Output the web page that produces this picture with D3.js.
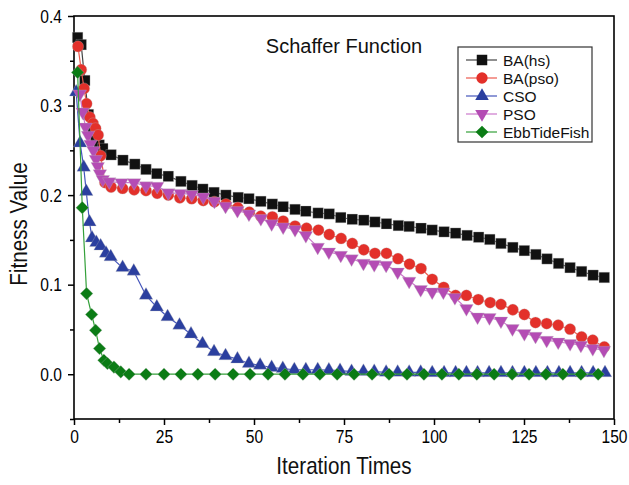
<!DOCTYPE html>
<html lang="en">
<head>
  <meta charset="UTF-8">
  <title>Schaffer Function</title>
  <script src="https://d3js.org/d3.v7.min.js"></script>
  <style>
    body, html { margin: 0; padding: 0; background: #fff; }
    text { font-family: "Liberation Sans", Arial, sans-serif; }
  </style>
</head>
<body>
  <svg id="svg" width="629" height="485"></svg>
  <script>
    // iteration / fitness pairs
    const bahsIter = [1, 2, 3, 4, 5.1, 6, 7, 8, 10.3, 13.6, 16.9, 20, 23, 26.2, 29.7, 32.8, 35.8, 38.9, 42.2, 45.6, 48.6, 51.9, 55.1, 58.1, 61.4, 64.4, 67.8, 70.9, 74.1, 77.3, 80.5, 83.6, 86.8, 90.1, 93.1, 96.4, 99.5, 102.8, 106, 109.2, 112.4, 115.5, 118.6, 121.9, 125.1, 128.3, 131.4, 134.6, 137.8, 141, 144.2, 147.3]
    const bahsVal = [0.376, 0.368, 0.328, 0.29, 0.273, 0.261, 0.256, 0.252, 0.245, 0.239, 0.2346, 0.2287, 0.224, 0.221, 0.2153, 0.2108, 0.2067, 0.203, 0.2, 0.1974, 0.196, 0.193, 0.19, 0.187, 0.184, 0.182, 0.18, 0.179, 0.175, 0.173, 0.172, 0.17, 0.168, 0.166, 0.165, 0.163, 0.161, 0.159, 0.1575, 0.155, 0.153, 0.1505, 0.146, 0.1416, 0.138, 0.1337, 0.1288, 0.1237, 0.119, 0.1147, 0.1106, 0.108]

    const bapsoIter = [1.1, 2, 2.8, 3.5, 4.4, 5.3, 6, 6.7, 7.4, 8.6, 10.3, 13.5, 16.7, 20, 23.1, 26.2, 29.4, 32.7, 35.9, 39, 42.2, 45.5, 48.7, 51.9, 55.1, 58.1, 61.4, 64.6, 67.9, 70.9, 74.2, 77.3, 80.5, 83.6, 86.8, 90, 93.2, 96.4, 99.5, 102.7, 106, 109, 112.3, 115.6, 118.6, 121.9, 125.1, 128.2, 131.3, 134.5, 137.8, 141, 144.1, 147.3]
    const bapsoVal = [0.366, 0.34, 0.319, 0.302, 0.287, 0.28, 0.2745, 0.267, 0.244, 0.214, 0.209, 0.2075, 0.206, 0.205, 0.202, 0.2, 0.197, 0.196, 0.194, 0.1925, 0.19, 0.186, 0.181, 0.1765, 0.1758, 0.171, 0.1654, 0.163, 0.161, 0.156, 0.1516, 0.146, 0.139, 0.135, 0.135, 0.129, 0.123, 0.118, 0.106, 0.097, 0.088, 0.088, 0.0834, 0.08, 0.078, 0.072, 0.0667, 0.0577, 0.0566, 0.0547, 0.0503, 0.0417, 0.038, 0.0305]

    const csoIter = [0.6, 1.7, 2.7, 3.4, 4.3, 5, 6.2, 7.4, 8.9, 10.2, 13.5, 16.6, 20, 23, 26, 29.3, 32.5, 35.7, 38.9, 42.1, 45.4, 48.6, 51.7, 54.9, 58, 61.2, 64.4, 67.7, 70.8, 73.9, 77.1, 80.4, 83.4, 86.7, 89.9, 93.1, 96.3, 99.5, 102.8, 106, 109, 112.1, 115.3, 118.6, 121.8, 125.1, 128.3, 131.5, 134.7, 137.8, 141, 144.2, 147.5]
    const csoVal = [0.315, 0.258, 0.231, 0.204, 0.17, 0.152, 0.147, 0.143, 0.135, 0.131, 0.119, 0.115, 0.088, 0.075, 0.064, 0.0547, 0.0447, 0.034, 0.025, 0.0205, 0.0168, 0.012, 0.01, 0.0075, 0.0063, 0.005, 0.005, 0.005, 0.0045, 0.004, 0.003, 0.003, 0.003, 0.002, 0.002, 0.002, 0.002, 0.0015, 0.0015, 0.0015, 0.0015, 0.0015, 0.0015, 0.0015, 0.0015, 0.0015, 0.0015, 0.0015, 0.0015, 0.0015, 0.0015, 0.0015, 0.0015]

    const psoIter = [1.6, 2.4, 3.2, 3.9, 4.6, 5.4, 6.1, 6.6, 7.2, 8, 9.8, 13.2, 16.7, 20, 23.1, 26.2, 29.6, 32.7, 35.9, 39, 42.1, 45.4, 48.6, 51.9, 54.9, 58.1, 61.4, 64.4, 67.7, 70.8, 74.1, 77.1, 80.4, 83.4, 86.7, 89.9, 93.1, 96.3, 99.5, 102.6, 105.8, 109, 112.1, 115.4, 118.6, 121.8, 125.1, 128.2, 131.3, 134.5, 137.8, 140.8, 144.1, 147.2]
    const psoVal = [0.313, 0.293, 0.276, 0.267, 0.257, 0.25, 0.24, 0.232, 0.224, 0.2175, 0.215, 0.214, 0.214, 0.2104, 0.21, 0.2026, 0.202, 0.2008, 0.198, 0.1933, 0.1877, 0.183, 0.179, 0.174, 0.168, 0.1646, 0.1617, 0.155, 0.142, 0.1367, 0.133, 0.129, 0.124, 0.1225, 0.1218, 0.1143, 0.104, 0.0946, 0.092, 0.092, 0.0857, 0.0734, 0.064, 0.0633, 0.0596, 0.051, 0.0455, 0.0425, 0.038, 0.036, 0.0343, 0.0324, 0.0287, 0.0268]

    const ebbIter = [1, 2.3, 3.5, 4.9, 6, 7.1, 8.3, 9.3, 11.1, 13, 15.3, 20, 25, 29.7, 34.4, 39.2, 44.2, 48.9, 53.9, 58.6, 63.6, 68.3, 73.1, 77.8, 82.8, 87.5, 92.5, 97.2, 102.2, 106.9, 111.9, 116.7, 121.7, 126.4, 131.1, 135.8, 140.8, 145.6]
    const ebbVal = [0.337, 0.186, 0.09, 0.0667, 0.049, 0.0287, 0.0156, 0.012, 0.008, 0.0026, 0, 0, 0, 0, 0, 0, 0, 0, 0, 0, 0, 0, 0, 0, 0, 0, 0, 0, 0, 0, 0, 0, 0, 0, 0, 0, 0, 0]

    const seriesNames = ["BA(hs)", "BA(pso)", "CSO", "PSO", "EbbTideFish"]
    const xTicks = [0, 25, 50, 75, 100, 125, 150]
    const xMinorTicks = [12.5, 37.5, 62.5, 87.5, 112.5, 137.5]
    const yTicks = [0, 0.1, 0.2, 0.3, 0.4]
    const yMinorTicks = [-0.05, 0.05, 0.15, 0.25, 0.35]

    const svg = d3.select("#svg")
    const plotL = 74, plotR = 614, plotT = 16, plotB = 419
    const narrow = 0.82 // squeeze text sideways, the original uses a condensed face

    const x = d3.scaleLinear().domain([0, 150]).range([plotL, plotR])
    const y = d3.scaleLinear().domain([-0.05, 0.4]).range([plotB, plotT])

    const styles = [
      { line: "#444444", fill: "#111111", shape: "square" },
      { line: "#ec5a4e", fill: "#e3302a", shape: "circle" },
      { line: "#4455bb", fill: "#2b3f9f", shape: "triangle" },
      { line: "#cc77cc", fill: "#b44cb4", shape: "down" },
      { line: "#34a03a", fill: "#0b7c15", shape: "diamond" }
    ]

    const symbolFor = {
      square: { type: d3.symbolSquare, size: 110, rot: 0 },
      circle: { type: d3.symbolCircle, size: 100, rot: 0 },
      triangle: { type: d3.symbolTriangle, size: 80, rot: 0 },
      down: { type: d3.symbolTriangle, size: 80, rot: 180 },
      diamond: { type: d3.symbolSquare, size: 80, rot: 45 }
    }

    const allSeries = [
      d3.zip(bahsIter, bahsVal),
      d3.zip(bapsoIter, bapsoVal),
      d3.zip(csoIter, csoVal),
      d3.zip(psoIter, psoVal),
      d3.zip(ebbIter, ebbVal)
    ]

    // axes
    const xAxis = d3.axisBottom(x).tickValues(xTicks).tickSize(6).tickFormat(d3.format("d"))
    const gx = svg.append("g").attr("transform", `translate(0,${plotB})`).call(xAxis)
    svg.append("g").attr("transform", `translate(0,${plotB})`)
      .call(d3.axisBottom(x).tickValues(xMinorTicks).tickSize(4).tickFormat(""))

    const yAxis = d3.axisLeft(y).tickValues(yTicks).tickSize(6).tickFormat(d3.format(".1f"))
    const gy = svg.append("g").attr("transform", `translate(${plotL},0)`).call(yAxis)
    svg.append("g").attr("transform", `translate(${plotL},0)`)
      .call(d3.axisLeft(y).tickValues(yMinorTicks).tickSize(4).tickFormat(""))

    svg.selectAll(".domain").remove()
    svg.selectAll(".tick line").attr("stroke", "#000").attr("stroke-width", 1.5)
    gx.selectAll("text")
      .attr("font-size", 19).attr("fill", "#000")
      .attr("y", 11).attr("dy", "0.71em")
      .attr("transform", `scale(${narrow},1)`)
    gy.selectAll("text")
      .attr("font-size", 19).attr("fill", "#000")
      .attr("x", -12 / narrow)
      .attr("transform", `scale(${narrow},1)`)

    // frame
    svg.append("rect")
      .attr("x", plotL).attr("y", plotT)
      .attr("width", plotR - plotL).attr("height", plotB - plotT)
      .attr("fill", "none").attr("stroke", "#000").attr("stroke-width", 1.6)

    // series
    const lineGen = d3.line().x(d => x(d[0])).y(d => y(d[1]))
    allSeries.forEach((data, i) => {
      const st = styles[i]
      const sym = symbolFor[st.shape]
      const g = svg.append("g")
      g.append("path")
        .attr("d", lineGen(data))
        .attr("fill", "none")
        .attr("stroke", st.line)
        .attr("stroke-width", 1.2)
      g.selectAll("path.mark")
        .data(data)
        .enter()
        .append("path")
        .attr("class", "mark")
        .attr("d", d3.symbol().type(sym.type).size(sym.size))
        .attr("transform", d => `translate(${x(d[0])},${y(d[1])}) rotate(${sym.rot})`)
        .attr("fill", st.fill)
        .attr("stroke", "#bbbbbb")
        .attr("stroke-opacity", 0.5)
        .attr("stroke-width", 0.6)
    })

    // title
    svg.append("text")
      .attr("x", 344).attr("y", 53)
      .attr("text-anchor", "middle")
      .attr("font-size", 20)
      .attr("fill", "#111")
      .text("Schaffer Function")

    // axis titles
    svg.append("text")
      .attr("transform", `translate(${(plotL + plotR) / 2},474) scale(0.86,1)`)
      .attr("text-anchor", "middle")
      .attr("font-size", 24)
      .attr("fill", "#111")
      .text("Iteration Times")

    svg.append("text")
      .attr("transform", `translate(27,224) rotate(-90) scale(0.86,1)`)
      .attr("text-anchor", "middle")
      .attr("font-size", 24)
      .attr("fill", "#111")
      .text("Fitness Value")

    // legend
    const legend = svg.append("g")
    legend.append("rect")
      .attr("x", 458).attr("y", 47).attr("width", 134).attr("height", 95)
      .attr("fill", "#fff").attr("stroke", "#333").attr("stroke-width", 1.2)

    seriesNames.forEach((name, i) => {
      const st = styles[i]
      const sym = symbolFor[st.shape]
      const ly = 60 + i * 18
      legend.append("line")
        .attr("x1", 466).attr("x2", 497).attr("y1", ly).attr("y2", ly)
        .attr("stroke", st.line).attr("stroke-width", 1.2)
      legend.append("path")
        .attr("d", d3.symbol().type(sym.type).size(sym.size))
        .attr("transform", `translate(482,${ly}) rotate(${sym.rot})`)
        .attr("fill", st.fill)
      legend.append("text")
        .attr("x", 503).attr("y", ly)
        .attr("dy", "0.36em")
        .attr("font-size", 15.5)
        .attr("fill", "#111")
        .text(name)
    })
  </script>
</body>
</html>
